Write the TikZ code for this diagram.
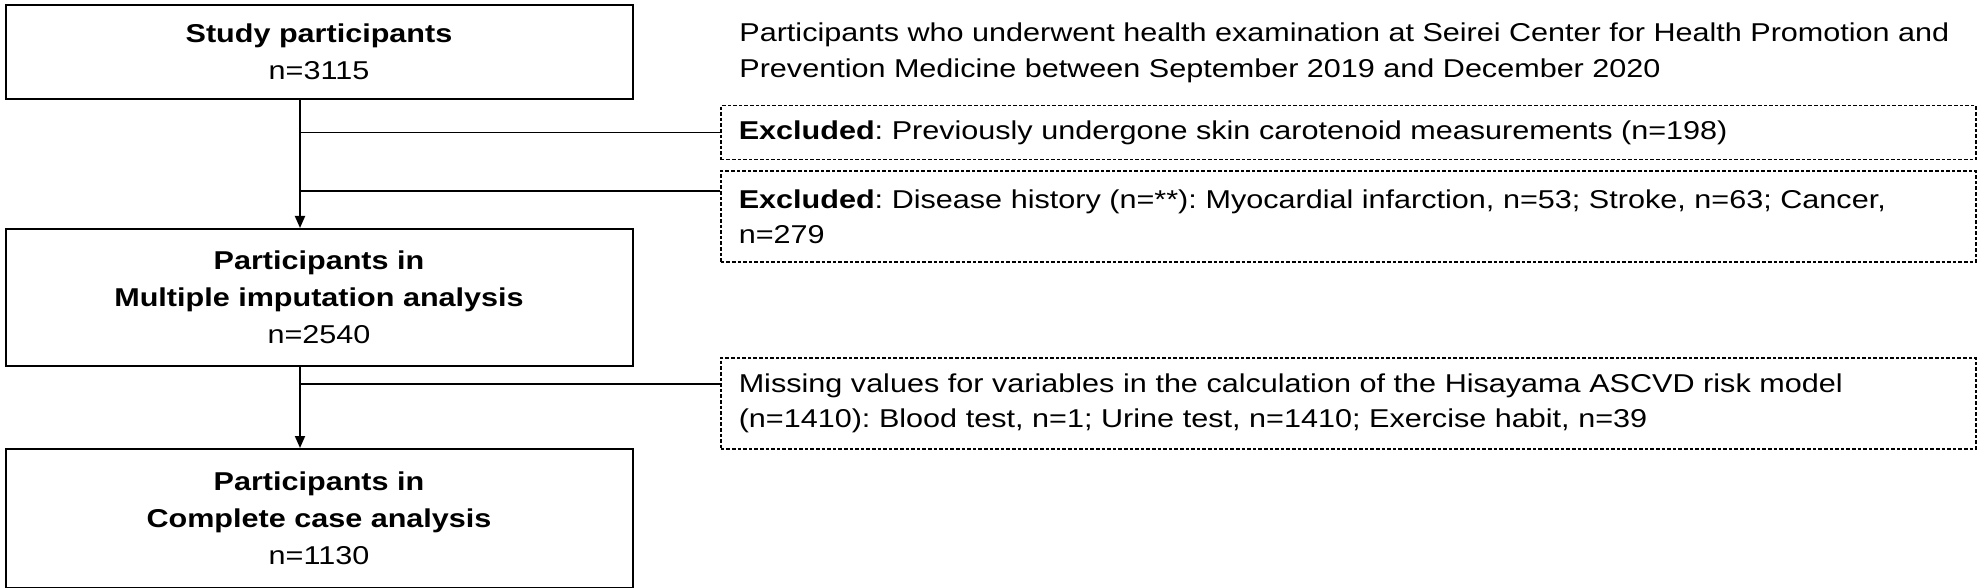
\documentclass[tikz,border=0pt]{standalone}
\usepackage{fontspec}
\setmainfont{Liberation Sans}[FakeStretch=1.185]
\frenchspacing
\usetikzlibrary{positioning,arrows.meta}
\tikzset{stage node/.style={draw,line width=1pt,minimum width=313.5pt,inner sep=0pt,align=center,font=\fontsize{12.9}{18.5}\selectfont},
excl node/.style={draw,dash pattern=on 1.8pt off 1pt,line width=0.75pt,minimum width=627.5pt,text width=609.5pt,inner xsep=9pt,inner ysep=0pt,align=left,font=\fontsize{12.9}{17.5}\selectfont},
flow arrow/.style={line width=0.9pt,-{Triangle[length=6pt,width=5pt]}},
branch line/.style={line width=0.75pt},
}

\begin{document}
\begin{tikzpicture}[x=0.5pt,y=-0.5pt]
\useasboundingbox (0,0) rectangle (1980,588);

% left column
\node[stage node,minimum height=47.25pt,anchor=north west] (study) at (4.5,4) {\textbf{Study participants}\\n=3115};
\node[stage node,minimum height=68.5pt] (mi) [below=63.75pt of study] {\textbf{Participants in}\\\textbf{Multiple imputation analysis}\\n=2540};
\node[stage node,minimum height=69.5pt] (cc) [below=40.5pt of mi] {\textbf{Participants in}\\\textbf{Complete case analysis}\\n=1130};

% right column
\node[anchor=west,inner sep=0pt,align=left,font=\fontsize{12.9}{18}\selectfont] (source) at (739,53) {Participants who underwent health examination at Seirei Center for Health Promotion and\\Prevention Medicine between September 2019 and December 2020};
\node[excl node,minimum height=27pt,anchor=north west] (ex1) at (720,105) {\textbf{Excluded}: Previously undergone skin carotenoid measurements (n=198)};
\node[excl node,minimum height=45.5pt] (ex2) [below=5pt of ex1] {\textbf{Excluded}: Disease history (n=**): Myocardial infarction, n=53; Stroke, n=63; Cancer,\\n=279};
\node[excl node,minimum height=45.5pt,anchor=north west] (ex3) at (720,357) {Missing values for variables in the calculation of the Hisayama ASCVD risk model\\(n=1410): Blood test, n=1; Urine test, n=1410; Exercise habit, n=39};

% connectors
\coordinate (trunk) at (300,0);
\coordinate (j2) at (300,191);
\coordinate (j3) at (300,384);
\draw[flow arrow] (study.south -| trunk) -- (mi.north -| trunk);
\draw[flow arrow] (mi.south -| trunk) -- (cc.north -| trunk);
\draw[branch line] (trunk |- ex1.west) -- (ex1.west);
\draw[branch line] (j2) -- (j2 -| ex2.west);
\draw[branch line] (j3) -- (j3 -| ex3.west);
\end{tikzpicture}
\end{document}
